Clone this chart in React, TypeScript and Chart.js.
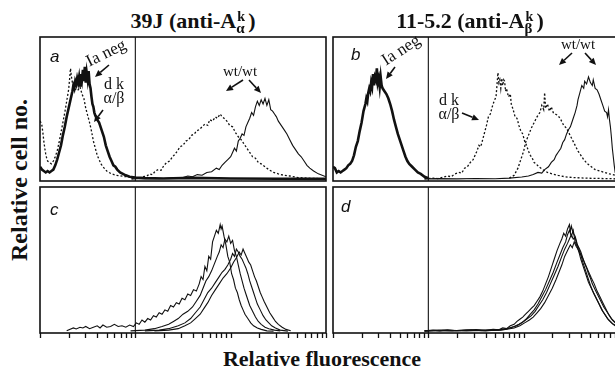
import React, { useEffect, useRef } from "react";
import { Chart, registerables } from "chart.js";

Chart.register(...registerables);

type Pt = [number, number];

// x = log channel (100 channels per decade; channel 0 = fluorescence 1), y = relative cell number (% of panel height)
const A_IA_NEG: Pt[] = [[0,9],[2,7],[4,6],[6,5],[8,6],[10,5],[12,6],[14,7],[16,10],[18,14],[20,19],[22,24],[24,31],[26,37],[28,44],[30,50],[32,56],[34,62],[35,66],[36,64],[37,69],[38,67],[39,71],[40,68],[41,72],[42,66],[43,74],[44,70],[45,77],[46,69],[47,79],[48,68],[49,75],[50,70],[51,76],[52,67],[53,64],[54,58],[55,53],[56,51],[57,47],[58,45],[60,42],[62,40],[63,38],[65,34],[67,30],[69,24],[71,20],[73,16],[75,13],[77,10],[79,9],[81,7],[84,5],[87,4],[90,3],[94,2],[100,1.5],[110,1],[130,0.8],[160,1.2],[200,0.8],[250,0.6],[300,0.5]];
const A_DK_AB: Pt[] = [[0,41],[1,40],[2,38],[3,33],[4,27],[5,22],[6,18],[7,15],[8,13],[10,12],[12,11],[14,13],[16,16],[18,20],[20,26],[22,33],[24,40],[26,47],[28,55],[30,63],[31,70],[32,78],[33,72],[34,68],[35,66],[36,62],[38,64],[40,63],[42,65],[44,60],[46,57],[48,50],[50,45],[52,40],[54,34],[56,27],[58,22],[60,17],[62,14],[64,11],[66,9],[70,6],[75,4],[80,3],[90,2],[100,1.5]];
const A_WT_DOT: Pt[] = [[96,0.5],[100,1],[104,0.8],[108,2],[112,2.5],[115,4],[118,3.5],[121,6],[124,7],[127,6.5],[130,10],[133,12],[136,13],[139,16],[142,18],[145,21],[147,23],[150,24],[153,27],[156,28],[159,31],[162,32],[164,34],[167,35],[170,37],[173,39],[176,38],[178,42],[181,41],[184,44],[186,43],[189,46],[191,44],[193,43],[196,41],[199,38],[202,37],[205,33],[208,30],[211,28],[214,25],[217,22],[220,19],[223,16],[226,15],[229,12],[232,11],[236,9],[240,7],[245,5],[250,4],[256,3],[262,2.5],[270,1.5],[280,1],[300,0.5]];
const A_WT_SOLID: Pt[] = [[96,0.5],[110,0.8],[125,0.6],[140,1.2],[150,1.5],[155,2.5],[160,2],[165,3.5],[170,3],[175,5],[180,5.5],[185,8],[188,7],[191,10],[194,12],[197,14],[200,16],[202,19],[204,22],[206,20],[208,27],[210,29],[212,32],[214,31],[216,37],[218,40],[220,43],[222,47],[224,45],[226,51],[228,55],[230,52],[232,56],[234,53],[236,57],[238,52],[240,56],[242,49],[244,48],[246,46],[248,44],[250,41],[253,38],[256,35],[259,32],[262,28],[265,24],[268,21],[271,18],[274,16],[277,13],[280,10],[283,8],[287,6],[292,4],[300,2]];

const B_IA_NEG: Pt[] = [[0,9],[2,8],[4,5],[6,6],[8,5],[10,6],[12,7],[14,8],[16,10],[18,11],[20,13],[22,17],[24,23],[26,27],[28,34],[30,40],[32,48],[34,53],[35,57],[36,55],[37,61],[38,64],[39,62],[40,68],[41,65],[42,74],[43,66],[44,72],[45,70],[46,78],[47,68],[48,71],[49,65],[50,72],[51,66],[52,64],[54,62],[56,60],[58,57],[60,53],[62,48],[64,42],[66,37],[68,32],[70,28],[72,24],[74,20],[76,16],[78,13],[80,11],[83,9],[86,7],[89,5],[92,4],[96,2],[100,1]];
const B_DK_AB: Pt[] = [[96,0.5],[100,0.8],[105,1],[110,0.7],[115,1.5],[120,2.5],[124,2],[128,4],[132,5],[135,4.5],[138,8],[141,9],[144,12],[147,14],[149,17],[151,20],[153,24],[155,23],[157,28],[159,33],[161,38],[163,44],[165,46],[167,51],[169,55],[171,58],[172,66],[173,75],[174,68],[175,70],[176,64],[177,71],[178,66],[179,70],[180,69],[181,62],[182,64],[184,58],[186,60],[187,53],[189,49],[191,44],[193,43],[195,38],[197,34],[199,32],[201,27],[203,24],[205,20],[207,17],[209,15],[211,12],[213,11],[216,9],[220,7],[225,5],[230,4],[236,3],[243,2],[250,1.5],[265,1],[300,0.5]];
const B_WT_DOT: Pt[] = [[185,1],[190,3],[194,8],[197,14],[200,20],[202,26],[205,31],[208,36],[211,40],[214,44],[217,47],[219,52],[221,49],[222,61],[223,50],[225,53],[227,48],[229,51],[231,47],[233,46],[236,45],[239,42],[242,38],[245,36],[248,32],[251,28],[254,24],[257,20],[260,17],[263,14],[267,11],[271,9],[275,7],[280,6],[285,5],[290,4],[296,3],[300,2.5]];
const B_WT_SOLID: Pt[] = [[96,0.5],[110,0.7],[130,0.5],[150,0.8],[170,0.6],[185,1],[198,1.8],[205,2.5],[210,3.5],[215,5],[219,4.5],[222,7],[226,9],[229,12],[232,14],[234,17],[236,19],[239,22],[241,26],[243,28],[245,32],[247,35],[249,37],[250,39],[252,43],[254,47],[256,52],[257,56],[259,61],[261,66],[263,64],[264,69],[266,67],[268,72],[269,70],[270,68],[272,66],[273,70],[275,64],[277,63],[279,60],[281,56],[283,52],[285,48],[287,47],[288,44],[289,49],[290,42],[291,37],[292,30],[293,22],[294,16],[295,10],[296,5],[298,3],[300,2]];

const C_1: Pt[] = [[28,0.5],[31,1.5],[35,2.5],[38,1.8],[42,3],[45,2.5],[48,3.5],[52,2],[56,3],[60,4],[63,2.5],[66,4.5],[70,3],[74,3.5],[78,5],[82,3.5],[86,4],[90,3],[94,4.5],[98,3.5],[101,6],[104,5],[107,8],[110,6.5],[113,9],[116,8],[119,11],[122,10],[125,13],[128,12],[131,15],[134,14],[137,18],[140,17],[143,20],[146,19],[149,23],[152,22],[155,26],[158,25],[161,29],[164,28],[167,33],[169,38],[171,36],[173,45],[175,42],[177,52],[179,50],[181,62],[183,66],[185,70],[187,68],[189,74],[190,71],[191,73],[193,66],[195,60],[197,52],[199,48],[201,40],[203,36],[205,30],[207,27],[209,22],[211,18],[213,15],[215,12],[218,9],[221,6],[224,4],[228,2.5],[232,1.5],[238,0.5],[245,0.3]];
const C_2: Pt[] = [[95,0.5],[110,1],[120,2],[128,3.5],[135,5],[140,7],[145,9],[150,12],[155,14],[160,17],[164,21],[168,25],[171,30],[174,35],[177,38],[180,42],[183,47],[186,52],[188,55],[190,60],[192,58],[194,64],[196,62],[198,66],[200,61],[202,63],[204,56],[206,52],[208,46],[210,40],[212,35],[214,30],[216,26],[218,22],[220,18],[223,14],[226,10],[229,7],[232,5],[236,3],[240,2],[246,1],[252,0.5]];
const C_3: Pt[] = [[110,0.5],[125,1],[135,2],[145,4],[152,6],[158,9],[163,13],[168,17],[172,22],[176,27],[180,30],[184,34],[188,38],[191,41],[194,43],[197,46],[200,50],[202,54],[204,52],[206,57],[208,55],[210,52],[212,50],[214,47],[216,44],[218,40],[220,35],[222,31],[224,27],[226,23],[228,19],[231,15],[234,11],[237,8],[240,6],[243,4],[247,2.5],[252,1],[260,0.3]];
const C_4: Pt[] = [[120,0.5],[135,1],[145,2],[152,4],[158,6],[163,9],[168,12],[172,16],[176,20],[180,25],[184,29],[188,33],[192,37],[196,40],[200,44],[203,48],[206,51],[209,55],[211,53],[213,57],[215,54],[217,51],[219,48],[221,46],[223,42],[225,38],[227,35],[229,31],[231,27],[233,24],[235,21],[238,17],[241,13],[244,10],[247,7],[250,5],[254,3],[258,1.5],[263,0.5]];

const D_1: Pt[] = [[96,0.5],[105,1],[112,0.5],[120,1.2],[130,0.6],[140,0.9],[150,1.3],[160,0.8],[168,1.5],[174,1.2],[178,2.5],[182,2],[186,4],[190,5],[193,7],[196,8.5],[199,10],[202,12],[205,14],[208,16],[211,18],[214,21],[217,24],[220,28],[223,33],[226,38],[229,44],[232,50],[235,56],[238,61],[240,64],[242,68],[244,66],[246,71],[248,74],[249,69],[250,73],[252,68],[254,66],[256,61],[258,57],[260,53],[262,48],[264,44],[266,40],[268,36],[270,32],[273,27],[276,23],[279,19],[282,15],[285,12],[288,9],[291,7],[294,5],[297,4],[300,3]];
const D_2: Pt[] = [[96,0.3],[110,0.8],[125,0.5],[140,1],[155,0.6],[170,1],[180,1.5],[185,2.5],[190,3.5],[195,5],[200,7],[204,9],[208,11],[212,14],[216,18],[220,22],[224,27],[228,33],[232,39],[236,45],[240,52],[243,57],[246,61],[248,64],[250,67],[252,64],[254,65],[256,60],[258,58],[260,55],[262,51],[264,47],[266,44],[268,40],[270,37],[272,33],[275,29],[278,25],[281,21],[284,17],[287,14],[290,11],[293,8],[296,6],[300,4]];
const D_3: Pt[] = [[96,0.6],[115,1],[130,0.7],[145,1.2],[160,0.5],[175,1.2],[183,2],[188,3],[193,4],[198,6],[203,9],[207,12],[211,15],[215,19],[219,24],[223,29],[227,35],[231,41],[235,48],[238,53],[241,58],[244,62],[246,67],[248,70],[250,66],[252,70],[254,62],[256,59],[258,55],[260,50],[262,46],[264,42],[266,38],[268,34],[271,30],[274,26],[277,22],[280,18],[283,14],[286,11],[289,8],[292,6],[296,4],[300,2.5]];
const D_4: Pt[] = [[96,0.4],[120,0.7],[140,0.5],[160,1],[176,1],[184,1.8],[190,2.5],[196,4],[201,6],[206,8],[210,10],[214,13],[218,16],[222,20],[226,25],[230,30],[234,36],[237,41],[240,46],[243,52],[246,56],[249,60],[251,58],[253,62],[255,59],[257,57],[259,54],[261,52],[263,49],[265,46],[267,43],[269,40],[271,37],[274,33],[277,28],[280,24],[283,20],[286,16],[289,12],[292,9],[295,7],[300,4]];

const X_TICKS = [1, 2, 3, 4, 5, 6, 7, 8, 9, 10, 20, 30, 40, 50, 60, 70, 80, 90, 100, 200, 300, 400, 500, 600, 700, 800, 900, 1000];
const X_MIN = 1;
const X_MAX = 1000;
const GATE = 10;
const CHANNELS_PER_DECADE = 100;

type Kind = "thick" | "thin" | "dot";
type Series = { pts: Pt[]; kind: Kind };

const TICK_LEN = 5;

const framePlugin = {
  id: "frame",
  beforeDatasetsDraw(chart: any, _args: any, opts: any) {
    const { ctx, chartArea, scales } = chart;
    const { left, top, right, bottom } = chartArea;
    ctx.save();
    ctx.strokeStyle = "#111";
    ctx.lineWidth = 1.6;
    ctx.strokeRect(left, top, right - left, bottom - top);
    const xg = scales.x.getPixelForValue(GATE);
    ctx.lineWidth = 1.1;
    ctx.beginPath();
    ctx.moveTo(xg, top);
    ctx.lineTo(xg, bottom);
    ctx.stroke();
    if (opts && opts.ticks) {
      ctx.lineWidth = 1.3;
      ctx.beginPath();
      for (const v of X_TICKS) {
        const px = Math.round(scales.x.getPixelForValue(v)) + 0.5;
        ctx.moveTo(px, bottom);
        ctx.lineTo(px, bottom + TICK_LEN);
      }
      ctx.stroke();
    }
    ctx.restore();
  },
};

function Panel(props: { left: number; top: number; w: number; h: number; axis: boolean; series: Series[] }) {
  const ref = useRef<HTMLCanvasElement>(null);
  const pad = 2;
  const extra = props.axis ? TICK_LEN + 1 : 0;
  const cw = props.w + pad * 2;
  const ch = props.h + pad * 2 + extra;
  useEffect(() => {
    const chart = new Chart(ref.current as HTMLCanvasElement, {
      type: "line",
      data: {
        datasets: props.series.map((s) => ({
          data: s.pts.map(([c, v]) => ({ x: Math.pow(10, c / CHANNELS_PER_DECADE), y: v })),
          borderColor: "#111",
          borderWidth: s.kind === "thick" ? 2.6 : s.kind === "dot" ? 1.3 : 1.1,
          borderDash: s.kind === "dot" ? [2, 2] : [],
          pointRadius: 0,
          tension: 0,
          fill: false,
        })),
      },
      options: {
        animation: false,
        responsive: false,
        events: [],
        layout: { padding: { left: pad, right: pad, top: pad, bottom: pad + extra } },
        plugins: { legend: { display: false }, tooltip: { enabled: false }, frame: { ticks: props.axis } },
        scales: {
          x: { type: "logarithmic", min: X_MIN, max: X_MAX, display: false },
          y: { display: false, min: -1, max: 100 },
        },
      } as any,
      plugins: [framePlugin],
    });
    return () => chart.destroy();
  }, []);
  return (
    <canvas
      ref={ref}
      width={cw}
      height={ch}
      style={{ position: "absolute", left: props.left - pad, top: props.top - pad, width: cw, height: ch }}
    />
  );
}

const serif = "'Liberation Serif', 'DejaVu Serif', serif";
const sans = "'Liberation Sans', Arial, sans-serif";

function Arrow({ x1, y1, x2, y2 }: { x1: number; y1: number; x2: number; y2: number }) {
  const a = Math.atan2(y2 - y1, x2 - x1);
  const L = 7;
  const W = 3.2;
  const bx = x2 - L * Math.cos(a);
  const by = y2 - L * Math.sin(a);
  const px = -Math.sin(a) * W;
  const py = Math.cos(a) * W;
  return (
    <g>
      <line x1={x1} y1={y1} x2={bx} y2={by} stroke="#111" strokeWidth={1.6} />
      <polygon points={`${x2},${y2} ${bx + px},${by + py} ${bx - px},${by - py}`} fill="#111" />
    </g>
  );
}

function Stack({ sup, sub }: { sup: string; sub: string }) {
  return (
    <span style={{ display: "inline-block", position: "relative", width: 12, height: 1 }}>
      <span style={{ position: "absolute", left: 1, bottom: 4, fontSize: 14, lineHeight: "14px" }}>{sup}</span>
      <span style={{ position: "absolute", left: 0, top: -6, fontSize: 15, lineHeight: "15px" }}>{sub}</span>
    </span>
  );
}

export default function App() {
  const txt: React.CSSProperties = { position: "absolute", fontFamily: serif, color: "#111", whiteSpace: "nowrap" };
  return (
    <div style={{ position: "absolute", left: 0, top: 0, width: 615, height: 371, overflow: "hidden", background: "#fff" }}>
      <Panel left={40} top={37} w={286} h={144} axis={false}
        series={[{ pts: A_DK_AB, kind: "dot" }, { pts: A_IA_NEG, kind: "thick" }, { pts: A_WT_DOT, kind: "dot" }, { pts: A_WT_SOLID, kind: "thin" }]} />
      <Panel left={333} top={37} w={286} h={144} axis={false}
        series={[{ pts: B_IA_NEG, kind: "thick" }, { pts: B_DK_AB, kind: "dot" }, { pts: B_WT_DOT, kind: "dot" }, { pts: B_WT_SOLID, kind: "thin" }]} />
      <Panel left={40} top={187} w={286} h={146} axis={true}
        series={[{ pts: C_1, kind: "thin" }, { pts: C_2, kind: "thin" }, { pts: C_3, kind: "thin" }, { pts: C_4, kind: "thin" }]} />
      <Panel left={333} top={187} w={286} h={146} axis={true}
        series={[{ pts: D_1, kind: "thin" }, { pts: D_2, kind: "thin" }, { pts: D_3, kind: "thin" }, { pts: D_4, kind: "thin" }]} />

      <div style={{ ...txt, left: 193, top: 9, transform: "translateX(-50%)", fontSize: 22, fontWeight: "bold", lineHeight: "24px" }}>
        39J (anti-A<Stack sup="k" sub="α" />)
      </div>
      <div style={{ ...txt, left: 470, top: 9, transform: "translateX(-50%)", fontSize: 22, fontWeight: "bold", lineHeight: "24px" }}>
        11-5.2 (anti-A<Stack sup="k" sub="β" />)
      </div>
      <div style={{ ...txt, left: 19, top: 180, transform: "translate(-50%,-50%) rotate(-90deg)", fontSize: 24, fontWeight: "bold", lineHeight: "26px" }}>
        Relative cell no.
      </div>
      <div style={{ ...txt, left: 322, top: 347, transform: "translateX(-50%)", fontSize: 22, fontWeight: "bold", lineHeight: "24px" }}>
        Relative fluorescence
      </div>

      <div style={{ ...txt, fontFamily: sans, fontStyle: "italic", fontSize: 17, left: 50, top: 47 }}>a</div>
      <div style={{ ...txt, fontFamily: sans, fontStyle: "italic", fontSize: 17, left: 351, top: 45 }}>b</div>
      <div style={{ ...txt, fontFamily: sans, fontStyle: "italic", fontSize: 17, left: 50, top: 200 }}>c</div>
      <div style={{ ...txt, fontFamily: sans, fontStyle: "italic", fontSize: 17, left: 341, top: 197 }}>d</div>

      <div style={{ ...txt, fontSize: 17, left: 106, top: 53, transform: "translate(-50%,-50%) rotate(-26deg)" }}>Ia neg</div>
      <div style={{ ...txt, fontSize: 17, left: 401, top: 50, transform: "translate(-50%,-50%) rotate(-33deg)" }}>Ia neg</div>
      <div style={{ ...txt, fontSize: 16, left: 114, top: 91, transform: "translate(-50%,-50%)", lineHeight: "14px", textAlign: "center" }}>
        d k<br />α/β
      </div>
      <div style={{ ...txt, fontSize: 16, left: 449, top: 107, transform: "translate(-50%,-50%)", lineHeight: "14px", textAlign: "center" }}>
        d k<br />α/β
      </div>
      <div style={{ ...txt, fontSize: 15, left: 240, top: 71, transform: "translate(-50%,-50%)" }}>wt/wt</div>
      <div style={{ ...txt, fontSize: 15, left: 578, top: 44, transform: "translate(-50%,-50%)" }}>wt/wt</div>

      <svg width={615} height={371} style={{ position: "absolute", left: 0, top: 0, pointerEvents: "none" }}>
        <Arrow x1={109} y1={65} x2={95} y2={77} />
        <Arrow x1={103} y1={110} x2={94} y2={122} />
        <Arrow x1={243} y1={80} x2={226} y2={91} />
        <Arrow x1={249} y1={80} x2={261} y2={93} />
        <Arrow x1={395} y1={67} x2={386} y2={79} />
        <Arrow x1={462} y1={113} x2={479} y2={120} />
        <Arrow x1={572} y1={53} x2={559} y2={65} />
        <Arrow x1={585} y1={53} x2={596} y2={65} />
      </svg>
    </div>
  );
}
